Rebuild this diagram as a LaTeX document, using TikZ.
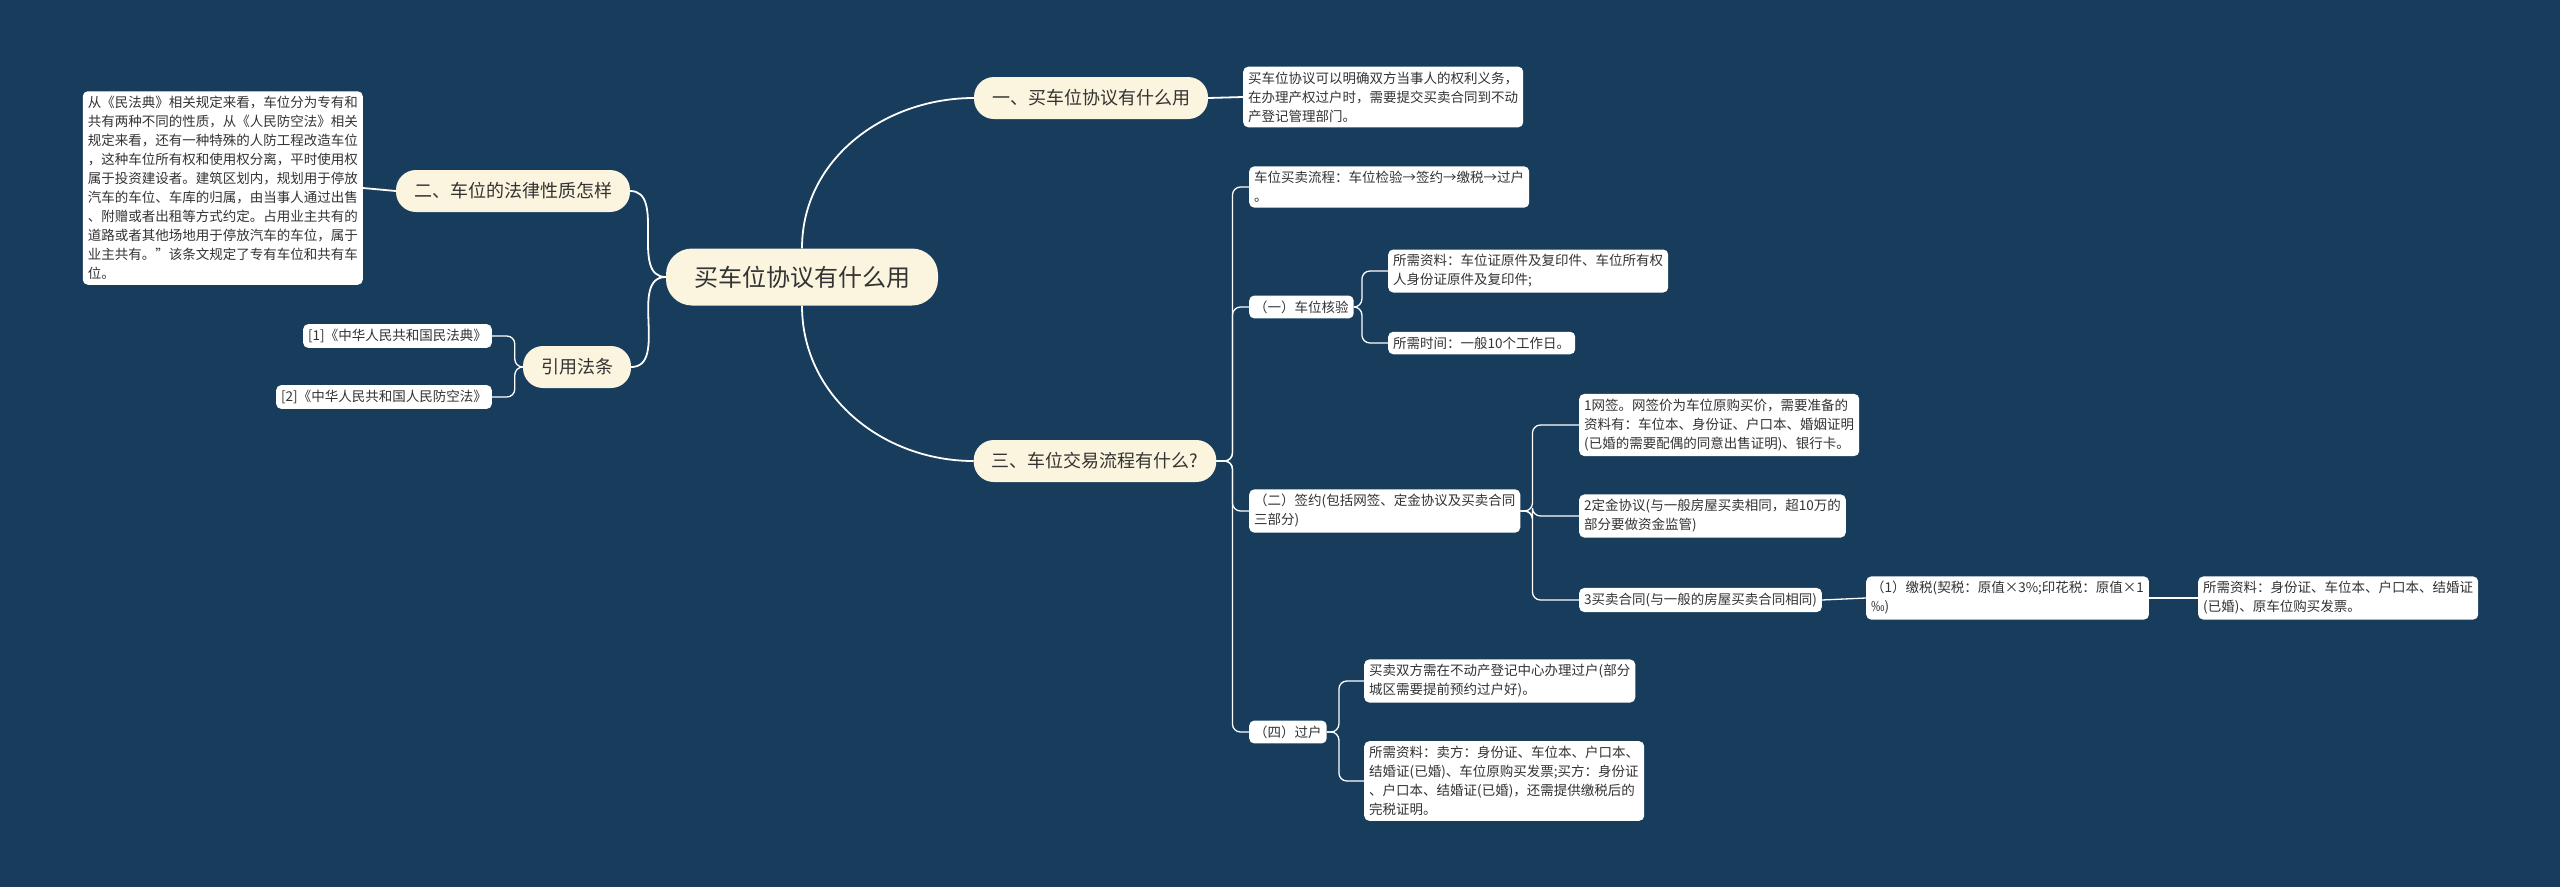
\documentclass[tikz,border=0pt]{standalone}
\usepackage{fontspec}
\setmainfont{Noto Sans CJK SC}
\definecolor{bg}{HTML}{173C5C}
\definecolor{cream}{HTML}{FBF4DE}
\definecolor{leafc}{HTML}{FFFFFF}
\definecolor{txt}{HTML}{333333}
\begin{document}
\begin{tikzpicture}[x=1pt,y=-1pt,
 leaf/.style={fill=leafc,rounded corners=5pt,align=left,text=txt,font=\fontsize{13.5}{19}\selectfont,inner xsep=5pt,inner ysep=5pt,anchor=west},
 branch/.style={fill=cream,rounded corners=20pt,text=txt,font=\fontsize{18}{22}\selectfont,minimum height=42pt,inner xsep=18pt},
 rootn/.style={fill=cream,rounded corners=26pt,text=txt,font=\fontsize{24}{28}\selectfont,minimum height=57pt,inner xsep=28pt},
 link/.style={draw=white,line width=1.8pt},
 blink/.style={draw=white,line width=1.3pt,rounded corners=8pt}]
\fill[bg] (0,0) rectangle (2560,887);
\useasboundingbox (0,0) rectangle (2560,887);
\node[rootn] (root) at (802,277) {买车位协议有什么用};
\node[branch] (b1) at (1091,98) {一、买车位协议有什么用};
\node[branch] (b2) at (513,191) {二、车位的法律性质怎样};
\node[branch] (b4) at (577,367) {引用法条};
\node[branch] (b3) at (1095,461) {三、车位交易流程有什么?};
\node[leaf] (l1) at (1243,97) {买车位协议可以明确双方当事人的权利义务，\\在办理产权过户时，需要提交买卖合同到不动\\产登记管理部门。};
\node[leaf,anchor=east] (l2) at (363,188) {从《民法典》相关规定来看，车位分为专有和\\共有两种不同的性质，从《人民防空法》相关\\规定来看，还有一种特殊的人防工程改造车位\\，这种车位所有权和使用权分离，平时使用权\\属于投资建设者。建筑区划内，规划用于停放\\汽车的车位、车库的归属，由当事人通过出售\\、附赠或者出租等方式约定。占用业主共有的\\道路或者其他场地用于停放汽车的车位，属于\\业主共有。”该条文规定了专有车位和共有车\\位。};
\node[leaf,anchor=east] (r1) at (492,336) {[1]《中华人民共和国民法典》};
\node[leaf,anchor=east] (r2) at (492,397) {[2]《中华人民共和国人民防空法》};
\node[leaf] (s0) at (1249,187) {车位买卖流程：车位检验→签约→缴税→过户\\。};
\node[leaf] (s1) at (1249,307) {（一）车位核验};
\node[leaf] (s1a) at (1388,271) {所需资料：车位证原件及复印件、车位所有权\\人身份证原件及复印件;};
\node[leaf] (s1b) at (1388,343) {所需时间：一般10个工作日。};
\node[leaf] (s2) at (1249,511) {（二）签约(包括网签、定金协议及买卖合同\\三部分)};
\node[leaf] (s2a) at (1579,425) {1网签。网签价为车位原购买价，需要准备的\\资料有：车位本、身份证、户口本、婚姻证明\\(已婚的需要配偶的同意出售证明)、银行卡。};
\node[leaf] (s2b) at (1579,516) {2定金协议(与一般房屋买卖相同，超10万的\\部分要做资金监管)};
\node[leaf] (s2c) at (1579,600) {3买卖合同(与一般的房屋买卖合同相同)};
\node[leaf] (s2c1) at (1866,598) {（1）缴税(契税：原值×3\%;印花税：原值×1\\‰)};
\node[leaf] (s2c2) at (2198,598) {所需资料：身份证、车位本、户口本、结婚证\\(已婚)、原车位购买发票。};
\node[leaf] (s4) at (1249,732) {（四）过户};
\node[leaf] (s4a) at (1364,681) {买卖双方需在不动产登记中心办理过户(部分\\城区需要提前预约过户好)。};
\node[leaf] (s4b) at (1364,781) {所需资料：卖方：身份证、车位本、户口本、\\结婚证(已婚)、车位原购买发票;买方：身份证\\、户口本、结婚证(已婚)，还需提供缴税后的\\完税证明。};
% root links
\draw[link] (root.north) to[out=90,in=180] (b1.west);
\draw[link] (root.south) to[out=-90,in=180] (b3.west);
\draw[link] (root.west) to[out=180,in=0] (b2.east);
\draw[link] (root.west) to[out=180,in=0] (b4.east);
\draw[link] (b1.east) -- (l1.west);
\draw[link] (b2.west) -- (l2.east);
\draw[blink] (b4.west) -- ++(-8,0) |- (r1.east);
\draw[blink] (b4.west) -- ++(-8,0) |- (r2.east);
\foreach \c in {s0,s1,s2,s4}{\draw[blink] (b3.east) -- ++(16,0) |- (\c.west);}
\foreach \c in {s1a,s1b}{\draw[blink] (s1.east) -- ++(8,0) |- (\c.west);}
\foreach \c in {s2a,s2b,s2c}{\draw[blink] (s2.east) -- ++(12,0) |- (\c.west);}
\draw[link,line width=1.3pt] (s2c.east) -- (s2c1.west);
\draw[link,line width=1.3pt] (s2c1.east) -- (s2c2.west);
\foreach \c in {s4a,s4b}{\draw[blink] (s4.east) -- ++(12,0) |- (\c.west);}
\end{tikzpicture}
\end{document}
